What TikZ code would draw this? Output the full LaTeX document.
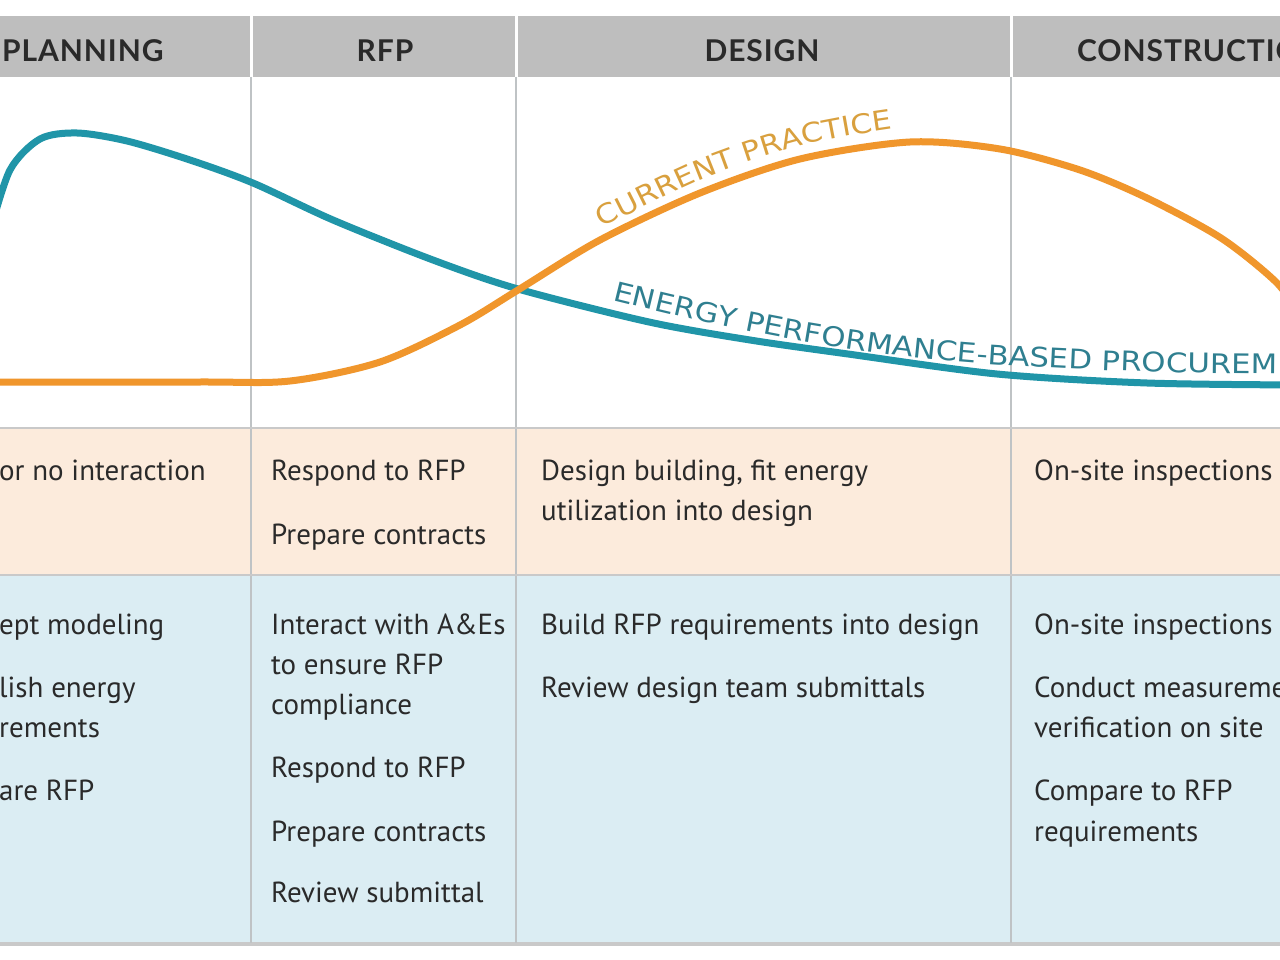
\documentclass[tikz,border=0pt]{standalone}
\usepackage{fontspec}
\usetikzlibrary{decorations.text}
\newfontfamily\bodyfont{PT Sans}
\newfontfamily\hdrfont[LetterSpace=3]{Lato}
\newfontfamily\lblfont[FakeStretch=1.14]{DejaVu Sans}
\definecolor{hdrgray}{HTML}{BEBEBE}
\definecolor{peach}{HTML}{FCEBDC}
\definecolor{paleblue}{HTML}{DBEDF3}
\definecolor{rulegray}{HTML}{BFC3C5}
\definecolor{linegray}{HTML}{C9C9C9}
\definecolor{tealc}{HTML}{2095A8}
\definecolor{orangec}{HTML}{F0962C}
\definecolor{teallbl}{HTML}{2F7F90}
\definecolor{orangelbl}{HTML}{D9A03E}
\definecolor{txt}{HTML}{2A2A2A}
\tikzset{
  hdr/.style={font=\hdrfont\bfseries\fontsize{30}{36}\selectfont, text=txt, inner sep=0pt},
  body/.style={font=\bodyfont\fontsize{29}{34}\selectfont, text=txt, inner sep=0pt, anchor=base west},
  colsep/.style={draw=rulegray, line width=1.5pt},
  curve/.style={line width=7pt, line cap=round},
}
\begin{document}
\begin{tikzpicture}[x=1pt,y=-1pt]
\useasboundingbox (0,0) rectangle (1280,960);
\clip (0,0) rectangle (1280,960);
\fill[white] (0,0) rectangle (1280,960);
% bands
\fill[hdrgray] (-5,16) rectangle (1285,77);
\fill[peach] (-5,428) rectangle (1285,575);
\fill[paleblue] (-5,575) rectangle (1285,943);
\fill[linegray] (-5,942) rectangle (1285,946);
\foreach \x in {251,516,1011} \draw[white, line width=3pt] (\x,16) -- (\x,77);
\foreach \x in {251,516,1011} \draw[colsep] (\x,77) -- (\x,943);
\draw[linegray, line width=2.5pt] (-5,428) -- (1285,428);
\draw[linegray, line width=2pt] (-5,575) -- (1285,575);

% headers
\node[hdr, anchor=base west] (hplan) at (2,62) {PLANNING};
\node[hdr, anchor=base] (hrfp) at (385,62) {RFP};
\node[hdr, anchor=base] (hdes) at (762,62) {DESIGN};
\node[hdr, anchor=base west] (hcon) at (1077,62) {CONSTRUCTION};

% curves
\draw[curve, tealc] plot[smooth, tension=0.5] coordinates {(-10,232) (10,170) (40,139) (77,133) (127,141) (190,160) (253,183) (333,220) (433,260) (518,289) (649,322) (750,340) (848,354) (997,374) (1147,383) (1300,385)};
\draw[curve, orangec] plot[smooth, tension=0.5] coordinates {(-10,382) (200,382) (290,381) (380,362) (460,325) (518,290) (600,240) (700,193) (800,159) (910,142) (1000,149) (1080,170) (1147,198) (1221,238) (1276,282) (1300,315)};

% curve labels
\path[decorate, decoration={text along path, text color=orangelbl,
  text={|\lblfont\fontsize{27}{30}\selectfont|CURRENT PRACTICE}}]
  plot[smooth, tension=0.5] coordinates {(602,228) (700,180) (800,146) (900,128) (960,127) (1010,131)};
\path[decorate, decoration={text along path, text color=teallbl,
  text={|\lblfont\fontsize{27}{30}\selectfont|ENERGY PERFORMANCE-BASED PROCUREMENT}}]
  plot[smooth, tension=0.5] coordinates {(612,300) (700,321) (800,341) (900,356) (1000,365) (1150,372) (1300,374) (1500,376)};

% orange band texts
\node[body] (o1) at (-1,480) {or no interaction};
\node[body] (o2) at (271,480) {Respond to RFP};
\node[body] (o3) at (271,544) {Prepare contracts};
\node[body] (o4) at (541,480) {Design building, fit energy};
\node[body] (o5) at (541,520) {utilization into design};
\node[body] (o6) at (1034,480) {On-site inspections};

% blue band texts
\node[body] (b1) at (-1,634) {ept modeling};
\node[body] (b2) at (-1,697) {lish energy};
\node[body] (b3) at (-1,737) {rements};
\node[body] (b4) at (-1,800) {are RFP};

\node[body] (r1) at (271,634) {Interact with A\&Es};
\node[body] (r2) at (271,674) {to ensure RFP};
\node[body] (r3) at (271,714) {compliance};
\node[body] (r4) at (271,777) {Respond to RFP};
\node[body] (r5) at (271,841) {Prepare contracts};
\node[body] (r6) at (271,902) {Review submittal};

\node[body] (d1) at (541,634) {Build RFP requirements into design};
\node[body] (d2) at (541,697) {Review design team submittals};

\node[body] (c1) at (1034,634) {On-site inspections};
\node[body] (c2) at (1034,697) {Conduct measurement and};
\node[body] (c3) at (1034,737) {verification on site};
\node[body] (c4) at (1034,800) {Compare to RFP};
\node[body] (c5) at (1034,841) {requirements};
\end{tikzpicture}
\end{document}
